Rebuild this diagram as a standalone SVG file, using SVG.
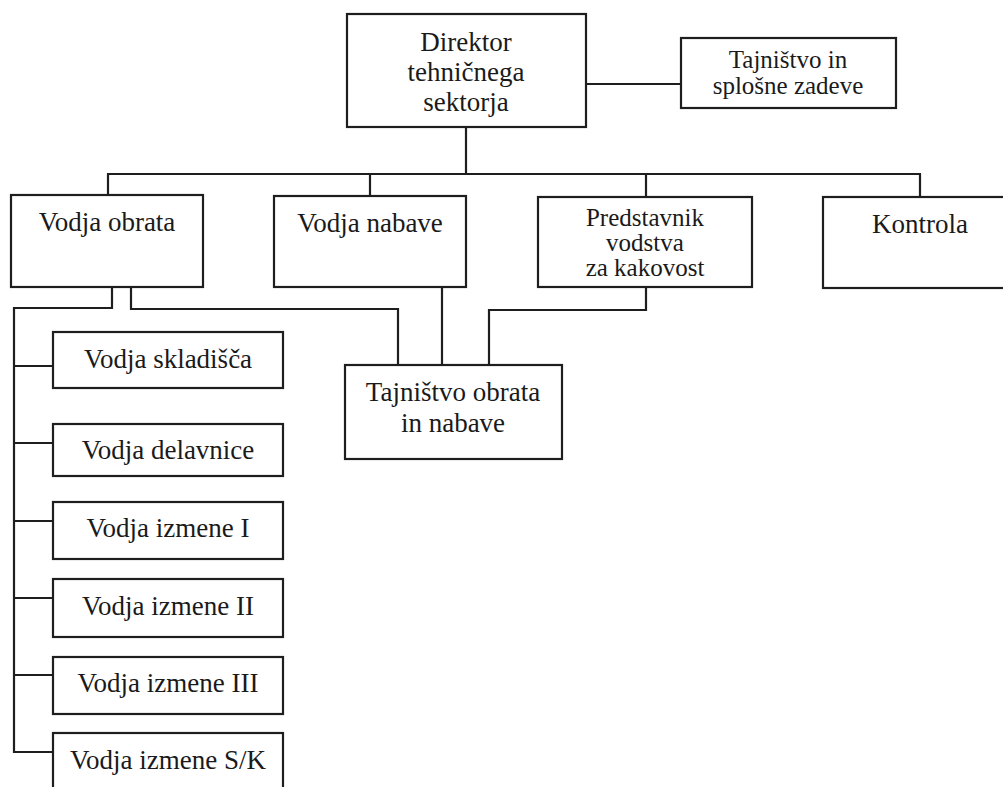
<svg xmlns="http://www.w3.org/2000/svg" width="1003" height="787" viewBox="0 0 1003 787">
<style>
.box{fill:#fff;stroke:#1e1e1e;stroke-width:2.2}
.lbl{font-family:'Liberation Serif','Tinos','Times New Roman','DejaVu Serif',serif;font-size:27px;fill:#1a1a1a;text-anchor:middle}
.sm{font-size:25px}
.con{fill:none;stroke:#1e1e1e;stroke-width:2.2}
</style>
<rect width="1003" height="787" fill="#fff"/>
<g id="connectors">
<line class="con" x1="586" y1="84" x2="681" y2="84"/>
<line class="con" x1="466" y1="127" x2="466" y2="174"/>
<line class="con" x1="107" y1="174" x2="921" y2="174"/>
<line class="con" x1="108" y1="174" x2="108" y2="195"/>
<line class="con" x1="370" y1="174" x2="370" y2="196"/>
<line class="con" x1="646" y1="174" x2="646" y2="197"/>
<line class="con" x1="920" y1="174" x2="920" y2="197"/>
<path class="con" d="M112,287 V308 H14 V753"/>
<line class="con" x1="14" y1="366" x2="53" y2="366"/>
<line class="con" x1="14" y1="443" x2="53" y2="443"/>
<line class="con" x1="14" y1="521" x2="53" y2="521"/>
<line class="con" x1="14" y1="598" x2="53" y2="598"/>
<line class="con" x1="14" y1="675" x2="53" y2="675"/>
<line class="con" x1="14" y1="752" x2="53" y2="752"/>
<path class="con" d="M131,287 V309 H398 V365"/>
<line class="con" x1="442" y1="287" x2="442" y2="365"/>
<path class="con" d="M646,287 V310 H489 V365"/>
</g>
<g id="director">
<rect class="box" x="347" y="14" width="239" height="113"/>
<text class="lbl" x="466" y="51">Direktor</text>
<text class="lbl" x="466" y="81">tehničnega</text>
<text class="lbl" x="466" y="111">sektorja</text>
</g>
<g id="tajnistvo-splosne">
<rect class="box" x="681" y="38" width="215" height="70"/>
<text class="lbl sm" x="788" y="68">Tajništvo in</text>
<text class="lbl sm" x="788" y="94">splošne zadeve</text>
</g>
<g id="vodja-obrata">
<rect class="box" x="11" y="195" width="192" height="92"/>
<text class="lbl" x="107" y="231">Vodja obrata</text>
</g>
<g id="vodja-nabave">
<rect class="box" x="274" y="196" width="192" height="91"/>
<text class="lbl" x="370" y="232">Vodja nabave</text>
</g>
<g id="predstavnik">
<rect class="box" x="538" y="197" width="214" height="90"/>
<text class="lbl sm" x="645" y="226">Predstavnik</text>
<text class="lbl sm" x="645" y="251">vodstva</text>
<text class="lbl sm" x="645" y="276">za kakovost</text>
</g>
<g id="kontrola">
<rect class="box" x="823" y="197" width="194" height="91"/>
<text class="lbl" x="920" y="233">Kontrola</text>
</g>
<g id="tajnistvo-obrata">
<rect class="box" x="345" y="365" width="217" height="94"/>
<text class="lbl" x="453" y="401">Tajništvo obrata</text>
<text class="lbl" x="453" y="432">in nabave</text>
</g>
<g id="vodja-skladisca">
<rect class="box" x="53" y="332" width="230" height="56"/>
<text class="lbl" x="168" y="368">Vodja skladišča</text>
</g>
<g id="vodja-delavnice">
<rect class="box" x="53" y="424" width="230" height="52"/>
<text class="lbl" x="168" y="459">Vodja delavnice</text>
</g>
<g id="vodja-izmene-1">
<rect class="box" x="53" y="502" width="230" height="57"/>
<text class="lbl" x="168" y="537">Vodja izmene I</text>
</g>
<g id="vodja-izmene-2">
<rect class="box" x="53" y="579" width="230" height="58"/>
<text class="lbl" x="168" y="615">Vodja izmene II</text>
</g>
<g id="vodja-izmene-3">
<rect class="box" x="53" y="657" width="230" height="57"/>
<text class="lbl" x="168" y="692">Vodja izmene III</text>
</g>
<g id="vodja-izmene-sk">
<rect class="box" x="53" y="733" width="230" height="70"/>
<text class="lbl" x="168" y="769">Vodja izmene S/K</text>
</g>
</svg>
